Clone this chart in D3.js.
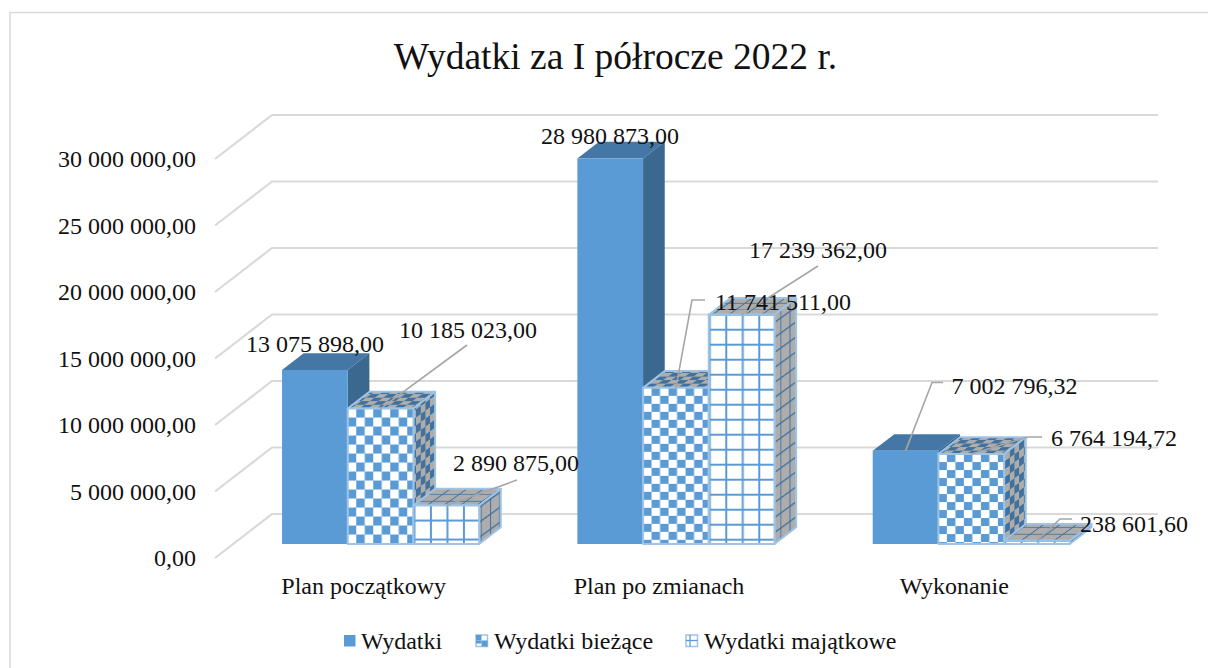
<!DOCTYPE html>
<html><head><meta charset="utf-8">
<style>html,body{margin:0;padding:0;background:#fff;overflow:hidden}svg{display:block}text{font-family:"Liberation Serif",serif;fill:#111}</style>
<script src="https://cdn.jsdelivr.net/npm/d3@7/dist/d3.min.js"></script>
</head><body><svg id="c" width="1208" height="668"></svg>
<script>
const title = "Wydatki za I półrocze 2022 r.";
const categories = ["Plan początkowy", "Plan po zmianach", "Wykonanie"];
const seriesNames = ["Wydatki", "Wydatki bieżące", "Wydatki majątkowe"];
const wydatki = [13075898, 28980873, 7002796.32];
const biezace = [10185023, 11741511, 6764194.72];
const majatkowe = [2890875, 17239362, 238601.60];
const tickValues = [0, 5000000, 10000000, 15000000, 20000000, 25000000, 30000000];

// layout of the data labels: label centre and leader-line elbow
const labelLayout = [
  [[315,344,null],[468,330,[467,345]],[516,463,[517,480]]],
  [[610,136,null],[783,302,[692,300,705,300]],[818,250,[818,266]]],
  [[1014.5,386,[932,382.5,943,382.5]],[1114,438,[1028,437,1042,437]],[1134,524,[1060,519,1072,519]]]
];
// hatch sizes per category: checker cell height, grid row height
const checkerRow = [9, 8, 8];
const gridRow = [19, 15, 15];

const fmt = d3.formatLocale({decimal:",",thousands:"\u00a0",grouping:[3],currency:["",""]}).format(",.2f");
const svg = d3.select("#c");
const defs = svg.append("defs");

const plotLeft = 215, plotWidth = 886, floorFront = 558, valuePx = 399;
const wallDx = 57, wallDy = -44;
const barW = 65.7, first = 48.9;
const x = d3.scaleBand().domain(categories).range([plotLeft, plotLeft + plotWidth]);
const inner = d3.scaleBand().domain(seriesNames).range([first, first + 3*barW]);
const y = d3.scaleLinear().domain([0, 30000000]).range([0, valuePx]);
const z = d3.scaleLinear().domain([0, 1]).range([0, 1]);
const barFrontZ = 14/44, barBackZ = 14/44 + 0.38;
const P = (sx, v, d) => [sx + z(d)*wallDx, floorFront - y(v) + z(d)*wallDy];
const poly = pts => pts.map(p => p.join(",")).join(" ");

// --- patterns
function checker(id, a, b, m, h) {
  const p = defs.append("pattern").attr("id", id).attr("patternUnits","userSpaceOnUse")
    .attr("width",17).attr("height",2*h).attr("patternTransform", m);
  p.append("rect").attr("width",17).attr("height",2*h).attr("fill",a);
  p.append("rect").attr("width",8.5).attr("height",h).attr("fill",b);
  p.append("rect").attr("x",8.5).attr("y",h).attr("width",8.5).attr("height",h).attr("fill",b);
}
function grid(id, a, b, m, h, lw) {
  const p = defs.append("pattern").attr("id", id).attr("patternUnits","userSpaceOnUse")
    .attr("width",33).attr("height",h).attr("patternTransform", m);
  p.append("rect").attr("width",33).attr("height",h).attr("fill",a);
  p.append("rect").attr("width",lw).attr("height",h).attr("fill",b);
  p.append("rect").attr("x",16.5).attr("width",lw).attr("height",h).attr("fill",b);
  p.append("rect").attr("width",33).attr("height",lw).attr("fill",b);
}
const front = "#5b9bd5", sideDark = "#3b688f", topDark = "#4477a6", gray = "#adadad", hatch = "#41719c", edge = "#9dc3e6";
const sideM = "matrix(0.55,-0.4,0,1,0,0)", topM = "matrix(1,0,0.62,-0.44,0,0)";
checker("chkS", gray, hatch, sideM, 8);
checker("chkT", gray, hatch, topM, 8);
grid("grdS", gray, hatch, sideM, 15, 1.6);
grid("grdT", gray, hatch, topM, 15, 1.6);

// --- chart frame (right and bottom edges run off the picture)
svg.append("rect").attr("x",10).attr("y",12.5).attr("width",1300).attr("height",760)
  .attr("fill","#fff").attr("stroke","#d9d9d9").attr("stroke-width",1.5);

svg.append("text").attr("x",615.5).attr("y",69).attr("text-anchor","middle")
  .attr("font-size",37.5).text(title);

// --- walls
const gl = svg.append("g").attr("fill","none").attr("stroke","#d9d9d9").attr("stroke-width",2.2);
tickValues.forEach(t => {
  gl.append("polyline").attr("points", poly([P(plotLeft,t,0), P(plotLeft,t,1), P(plotLeft+plotWidth,t,1)]));
});

// --- y axis labels
svg.append("g").selectAll("text").data(tickValues).join("text")
  .attr("x",196).attr("y",d => floorFront - y(d) + 8).attr("text-anchor","end")
  .attr("font-size",24).text(d => fmt(d));

// --- category labels
svg.append("g").selectAll("text").data(categories).join("text")
  .attr("x",d => x(d) + x.bandwidth()/2 + 1).attr("y",594).attr("text-anchor","middle")
  .attr("font-size",24).text(d => d);

// --- bars
const seriesData = [
 {name:seriesNames[0], values:wydatki, s:sideDark, t:topDark, stroke:null},
 {name:seriesNames[1], values:biezace, s:"url(#chkS)", t:"url(#chkT)", stroke:edge},
 {name:seriesNames[2], values:majatkowe, s:"url(#grdS)", t:"url(#grdT)", stroke:edge}
];
const barsG = svg.append("g");
const tops = [];
categories.forEach((c, ci) => {
  tops[ci] = [];
  seriesData.forEach((s, si) => {
    const v = s.values[ci];
    const x0 = x(c) + inner(s.name), x1 = x0 + barW;
    const fp = P(x0, v, barFrontZ);
    let fill = front;
    if (si === 1) {
      fill = `url(#chkF${ci})`;
      checker(`chkF${ci}`, "#fff", front, `translate(${fp[0]+8.5},${fp[1]})`, checkerRow[ci]);
    } else if (si === 2) {
      fill = `url(#grdF${ci})`;
      grid(`grdF${ci}`, "#fff", front, `translate(${fp[0]+16.5},${fp[1]+14})`, gridRow[ci], 2);
    }
    const g = barsG.append("g").attr("stroke", s.stroke || "none").attr("stroke-width",2).attr("stroke-linejoin","round");
    g.append("polygon").attr("fill", s.t).attr("points", poly([P(x0,v,barFrontZ),P(x1,v,barFrontZ),P(x1,v,barBackZ),P(x0,v,barBackZ)]));
    g.append("polygon").attr("fill", s.s).attr("points", poly([P(x1,0,barFrontZ),P(x1,0,barBackZ),P(x1,v,barBackZ),P(x1,v,barFrontZ)]));
    g.append("polygon").attr("fill", fill).attr("points", poly([P(x0,0,barFrontZ),P(x1,0,barFrontZ),P(x1,v,barFrontZ),P(x0,v,barFrontZ)]));
    tops[ci][si] = P((x0+x1)/2, v, barFrontZ);
  });
});

// --- leaders and data labels
const lab = svg.append("g");
seriesData.forEach((s, si) => categories.forEach((c, ci) => {
  const elbow = labelLayout[ci][si][2];
  if (elbow) {
    const pts = [tops[ci][si]];
    for (let i = 0; i < elbow.length; i += 2) pts.push([elbow[i], elbow[i+1]]);
    lab.append("polyline").attr("points", poly(pts)).attr("fill","none").attr("stroke","#a6a6a6").attr("stroke-width",1.6);
  }
}));
seriesData.forEach((s, si) => categories.forEach((c, ci) => {
  const [lx, ly] = labelLayout[ci][si];
  lab.append("text").attr("x",lx).attr("y",ly+7.5).attr("text-anchor","middle").attr("font-size",24).text(fmt(s.values[ci]));
}));

// --- legend
const legendX = [344, 476, 686], legendTextX = [361, 494, 704];
const lg = svg.append("g");
seriesNames.forEach((n, i) => {
  const lx = legendX[i];
  lg.append("rect").attr("x",lx).attr("y",635).attr("width",11.5).attr("height",11.5)
    .attr("fill", i===0 ? front : "#fff").attr("stroke", i===0 ? "none" : edge).attr("stroke-width",1.5);
  if (i===1) {
    lg.append("rect").attr("x",lx+5.5).attr("y",640.5).attr("width",6).attr("height",6).attr("fill",front);
    lg.append("rect").attr("x",lx).attr("y",640.5).attr("width",5.5).attr("height",3).attr("fill",front);
    lg.append("rect").attr("x",lx).attr("y",635).attr("width",5.5).attr("height",5.5).attr("fill",front);
  }
  if (i===2) {
    lg.append("line").attr("x1",lx).attr("x2",lx+11.5).attr("y1",640.5).attr("y2",640.5).attr("stroke",front).attr("stroke-width",1.3);
    lg.append("line").attr("x1",lx+4).attr("x2",lx+4).attr("y1",635).attr("y2",646.5).attr("stroke",front).attr("stroke-width",1.3);
  }
  lg.append("text").attr("x",legendTextX[i]).attr("y",649).attr("font-size",24).text(n);
});
</script></body></html>
